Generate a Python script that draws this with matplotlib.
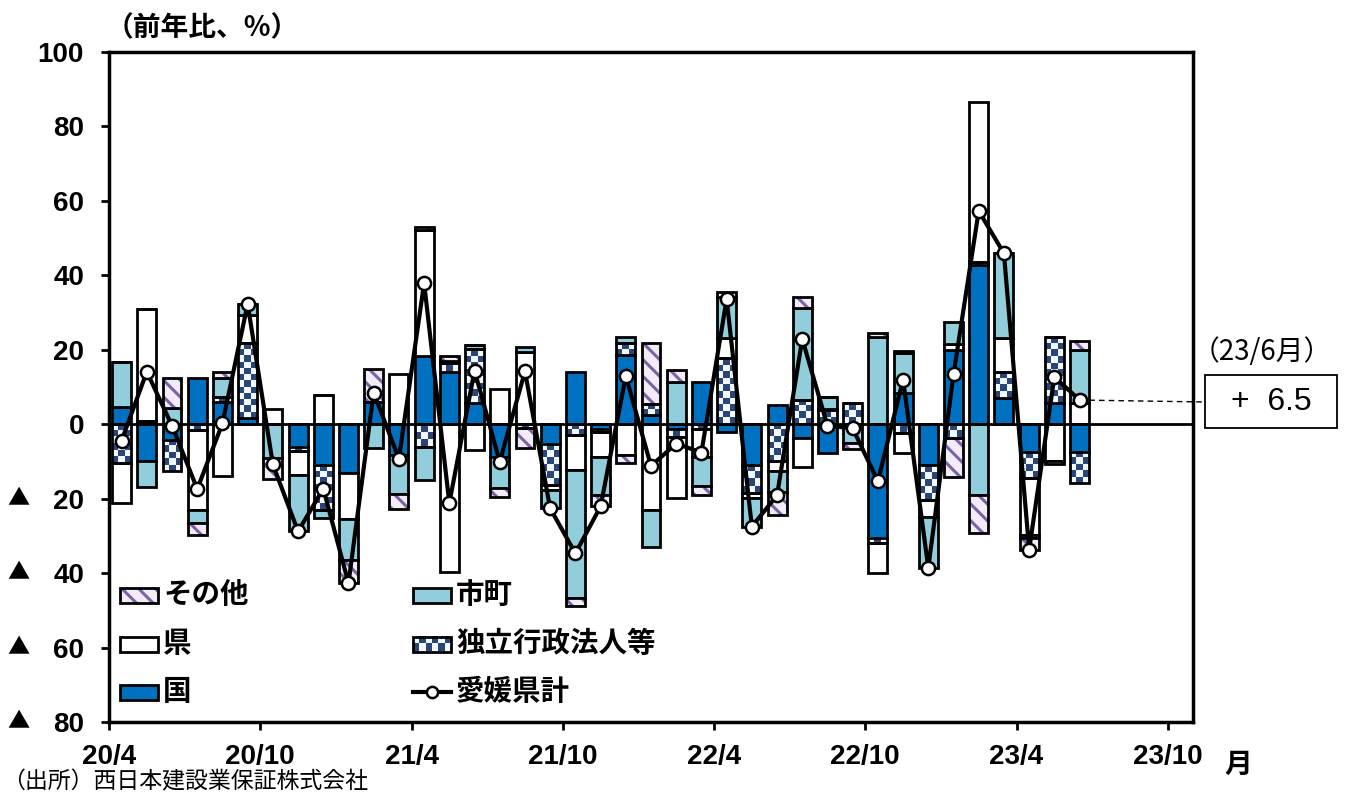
import numpy as np
import matplotlib
matplotlib.use("Agg")
import matplotlib.pyplot as plt
from matplotlib.patches import Rectangle
from matplotlib.transforms import blended_transform_factory

# ---- data: year-on-year change (%) of public works contracts in Ehime, by client ----
months = ["20/4", "20/5", "20/6", "20/7", "20/8", "20/9", "20/10", "20/11", "20/12",
          "21/1", "21/2", "21/3", "21/4", "21/5", "21/6", "21/7", "21/8", "21/9",
          "21/10", "21/11", "21/12", "22/1", "22/2", "22/3", "22/4", "22/5", "22/6",
          "22/7", "22/8", "22/9", "22/10", "22/11", "22/12", "23/1", "23/2", "23/3",
          "23/4", "23/5", "23/6"]
kuni = [4.7, -10.0, -4.2, 12.3, 6.1, 1.6, 0.0, -6.0, -10.9, -13.0,
        6.1, -8.2, 18.4, 14.1, 5.6, -8.7, 0.0, -5.2, 14.1, -1.2,
        18.6, 2.5, -1.2, 11.4, -2.0, -10.9, 5.2, -3.8, -7.8, 0.0,
        -30.6, 8.3, -10.9, 19.9, 42.8, 7.0, -7.4, 5.6, -7.4]
dokuritsu = [-10.5, 1.0, -8.5, -1.5, 1.3, 20.1, 0.0, -1.2, -12.1, 0.0,
             0.0, 0.0, -6.0, 2.3, 14.5, 0.0, -1.0, -11.1, -2.9, -1.0,
             3.1, 2.9, -2.1, -1.3, 17.7, -7.6, -10.0, 6.5, 3.7, 5.6,
             -1.4, -2.4, -9.4, -3.8, 0.9, 7.1, -7.1, 17.8, -8.5]
ken = [-10.7, 30.0, 0.0, -21.5, -13.9, 7.6, 4.0, -6.4, 7.9, -12.5,
       0.0, 13.4, 33.8, -39.6, -7.0, 9.5, 19.5, -1.5, -9.4, -6.5,
       -8.2, -23.0, -16.6, -7.4, 5.4, -1.4, -2.7, -7.6, 0.4, 0.0,
       -7.9, -5.4, -4.5, 1.6, 42.9, 9.0, -15.2, -10.0, 5.6]
shicho = [12.1, -6.9, 4.3, -3.6, 4.9, 3.0, -9.1, -15.2, -2.2, -10.9,
          -6.3, -10.5, -9.0, 0.6, 1.3, -8.5, 1.2, -4.8, -34.4, -10.3,
          1.8, -9.9, 11.4, -8.0, 11.2, -7.6, -5.4, 24.6, 3.3, -5.1,
          23.5, 10.8, -13.8, 6.0, -19.0, 22.8, -0.9, 0.0, 14.3]
sonota = [0.0, 0.0, 8.0, -3.1, 1.8, 0.0, -5.7, 0.0, 0.0, -6.3,
          8.7, -4.0, 0.7, 1.4, 0.0, -2.4, -5.5, 0.0, -2.1, -3.1,
          -2.3, 16.3, 3.3, -2.3, 1.3, 0.0, -6.2, 3.2, 0.0, -1.6,
          1.1, 0.7, 0.0, -10.3, -10.3, 0.0, -3.1, -0.7, 2.5]

xtick_labels = ["20/4", "20/10", "21/4", "21/10", "22/4", "22/10", "23/4", "23/10"]
series_names = ["国", "独立行政法人等", "県", "市町", "その他"]
total_name = "愛媛県計"

# ---- style ----
CJK = ["Noto Sans CJK JP", "DejaVu Sans"]
NUM = ["Liberation Sans Narrow", "Liberation Sans", "DejaVu Sans"]
plt.rcParams["font.family"] = CJK
plt.rcParams["hatch.linewidth"] = 2.2

C_KUNI = "#0070C0"
C_SHICHO = "#92CDDC"
C_KEN = "#FFFFFF"
C_CHK_DARK = "#2A4676"
C_CHK_LIGHT = "#F2F8FD"
C_OTHER_BG = "#F1ECF8"
C_OTHER_HATCH = "#7E62A8"
EDGE_LW = 2.0
LINE_LW = 3.0
MARKER_SIZE = 9.5

W, H = 1345, 796
L, R, T, B = 109, 1193, 52, 722
fig = plt.figure(figsize=(W / 100, H / 100), dpi=100)
ax = fig.add_axes([L / W, 1 - B / H, (R - L) / W, (B - T) / H])
XMIN, XMAX, YMIN, YMAX = -0.5, 42.5, -80, 100


def px(xp, yp):
    """figure pixel position -> data coordinates of the main axes"""
    return (XMIN + (xp - L) / (R - L) * (XMAX - XMIN),
            YMAX - (yp - T) / (B - T) * (YMAX - YMIN))


def checker_image(height_px, ncols=3, cell=6.5):
    nrows = max(1, int(round(height_px / cell)))
    img = np.zeros((nrows, ncols, 3))
    dark = np.array(matplotlib.colors.to_rgb(C_CHK_DARK))
    light = np.array(matplotlib.colors.to_rgb(C_CHK_LIGHT))
    for r in range(nrows):
        for c in range(ncols):
            img[r, c] = dark if (r + c) % 2 else light
    return img


x = np.arange(len(months))
width = 0.75
px_per_unit = (B - T) / (YMAX - YMIN)

data = [np.array(kuni), np.array(dokuritsu), np.array(ken),
        np.array(shicho), np.array(sonota)]
total = np.sum(data, axis=0)

pos_base = np.zeros(len(x))
neg_base = np.zeros(len(x))
for k, vals in enumerate(data):
    bottoms = np.where(vals >= 0, pos_base, neg_base)
    if k == 0:
        ax.bar(x, vals, width, bottom=bottoms, color=C_KUNI,
               edgecolor="black", linewidth=EDGE_LW, zorder=2)
    elif k == 1:
        for xi, b, v in zip(x, bottoms, vals):
            if abs(v) < 0.05:
                continue
            y0, y1 = sorted([b, b + v])
            ax.imshow(checker_image(abs(v) * px_per_unit),
                      extent=(xi - width / 2, xi + width / 2, y0, y1),
                      aspect="auto", interpolation="nearest", zorder=2)
        ax.bar(x, vals, width, bottom=bottoms, facecolor="none",
               edgecolor="black", linewidth=EDGE_LW, zorder=2.1)
    elif k == 2:
        ax.bar(x, vals, width, bottom=bottoms, color=C_KEN,
               edgecolor="black", linewidth=EDGE_LW, zorder=2)
    elif k == 3:
        ax.bar(x, vals, width, bottom=bottoms, color=C_SHICHO,
               edgecolor="black", linewidth=EDGE_LW, zorder=2)
    else:
        ax.bar(x, vals, width, bottom=bottoms, facecolor=C_OTHER_BG,
               edgecolor=C_OTHER_HATCH, hatch="\\\\", linewidth=0, zorder=2)
        ax.bar(x, vals, width, bottom=bottoms, facecolor="none",
               edgecolor="black", linewidth=EDGE_LW, zorder=2.1)
    pos_base += np.where(vals >= 0, vals, 0)
    neg_base += np.where(vals < 0, vals, 0)

ax.axhline(0, color="black", lw=2.0, zorder=3)
ax.plot(x, total, color="black", lw=LINE_LW, marker="o", markersize=MARKER_SIZE,
        markerfacecolor="white", markeredgecolor="black", markeredgewidth=1.8,
        zorder=5)

ax.set_xlim(XMIN, XMAX)
ax.set_ylim(YMIN, YMAX)

# ---- axes, ticks ----
for s in ax.spines.values():
    s.set_linewidth(2.5)
yt = np.arange(-80, 101, 20)
ax.set_yticks(yt)
ax.set_yticklabels([str(abs(v)) for v in yt], family=NUM, fontsize=20,
                   fontweight="bold")
ax.set_xticks(np.arange(0, 43, 6) - 0.5)
ax.set_xticklabels(xtick_labels, family=NUM, fontsize=20, fontweight="bold")
ax.tick_params(axis="both", direction="out", length=6, width=2, colors="black")
ax.tick_params(axis="y", pad=12)
ax.tick_params(axis="x", pad=10)

tr = blended_transform_factory(fig.transFigure, ax.transData)
for v in yt[yt < 0]:
    ax.text(18 / W, v, "▲", transform=tr, ha="center", va="center",
            fontsize=16, family=CJK, color="black")

fig.text(106 / W, 1 - 28 / H, "（前年比、%）", ha="left", va="center",
         fontsize=20, fontweight="bold")
fig.text(1238 / W, 1 - 765 / H, "月", ha="center", va="center",
         fontsize=20, fontweight="bold")
fig.text(2 / W, 1 - 782 / H, "（出所）西日本建設業保証株式会社", ha="left",
         va="center", fontsize=16.5)

# ---- legend ----
hw, hh = 38, 15
leg_rows = [595, 644, 692]
leg_cols = [120, 413]
entries = [(0, 0, 4), (1, 0, 3), (0, 1, 2), (1, 1, 1), (0, 2, 0)]
for col, row, k in entries:
    x0p, yc = leg_cols[col], leg_rows[row]
    (xa, ya), (xb, yb) = px(x0p, yc + hh / 2), px(x0p + hw, yc - hh / 2)
    if k == 1:
        ax.imshow(checker_image(13, ncols=6),
                  extent=(xa, xb, ya, yb), aspect="auto",
                  interpolation="nearest", zorder=6)
        ax.add_patch(Rectangle((xa, ya), xb - xa, yb - ya, facecolor="none",
                               edgecolor="black", lw=EDGE_LW, zorder=6.1))
    elif k == 4:
        ax.add_patch(Rectangle((xa, ya), xb - xa, yb - ya, facecolor=C_OTHER_BG,
                               edgecolor=C_OTHER_HATCH, hatch="\\\\", lw=0,
                               zorder=6))
        ax.add_patch(Rectangle((xa, ya), xb - xa, yb - ya, facecolor="none",
                               edgecolor="black", lw=EDGE_LW, zorder=6.1))
    else:
        fc = {0: C_KUNI, 2: C_KEN, 3: C_SHICHO}[k]
        ax.add_patch(Rectangle((xa, ya), xb - xa, yb - ya, facecolor=fc,
                               edgecolor="black", lw=EDGE_LW, zorder=6))
    tx, ty = px(x0p + hw + 5, yc)
    ax.text(tx, ty, series_names[k], ha="left", va="center", fontsize=20.5,
            fontweight="bold", zorder=6)

(la, ly), (lb, _) = px(leg_cols[1], leg_rows[2]), px(leg_cols[1] + hw, leg_rows[2])
ax.plot([la, lb], [ly, ly], color="black", lw=LINE_LW, zorder=6)
ax.plot([(la + lb) / 2], [ly], marker="o", markersize=MARKER_SIZE * 0.85,
        markerfacecolor="white", markeredgecolor="black", markeredgewidth=1.8,
        zorder=6.1)
tx, ty = px(leg_cols[1] + hw + 5, leg_rows[2])
ax.text(tx, ty, total_name, ha="left", va="center", fontsize=20.5,
        fontweight="bold", zorder=6)

# ---- latest value call-out ----
last = total[-1]
fig.text(1262 / W, 1 - 352 / H, f"（{months[-1]}月）", ha="center", va="center",
         fontsize=20, family=CJK)
box_l, box_r, box_t, box_b = 1205, 1337, 375, 428
fig.patches.append(Rectangle((box_l / W, 1 - box_b / H), (box_r - box_l) / W,
                             (box_b - box_t) / H, transform=fig.transFigure,
                             facecolor="white", edgecolor="black", lw=1.3))
fig.text((box_l + box_r) / 2 / W, 1 - (box_t + box_b) / 2 / H,
         f"+  {last:.1f}", ha="center", va="center", fontsize=23, family=NUM)
xe, ye = px(box_l, 402)
ax.plot([x[-1], xe], [last, ye], color="black", lw=1.0, ls=(0, (4, 3)),
        clip_on=False, zorder=4)

fig.savefig("out.png", dpi=100)
